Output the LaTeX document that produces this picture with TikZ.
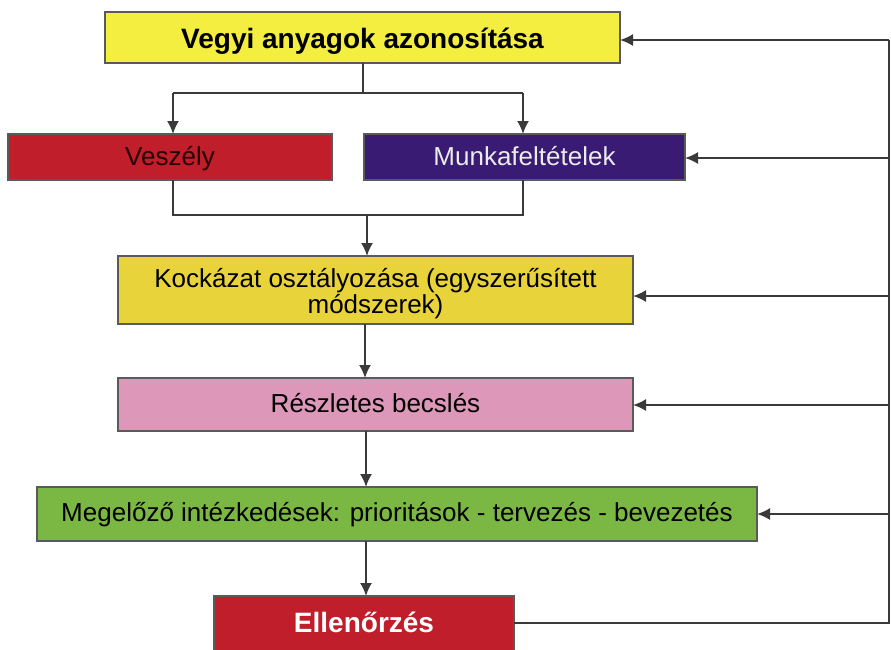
\documentclass[tikz,border=0pt]{standalone}
\usepackage{fontspec}
\setmainfont{Liberation Sans}
\usetikzlibrary{arrows.meta}
\definecolor{cyel}{HTML}{F4EE40}
\definecolor{cred}{HTML}{BF1E2A}
\definecolor{cpur}{HTML}{3A1B74}
\definecolor{cgold}{HTML}{E9D33B}
\definecolor{cpink}{HTML}{DD97B8}
\definecolor{cgreen}{HTML}{7BB843}
\definecolor{cline}{HTML}{3A3A3A}
\definecolor{cbord}{HTML}{5A5A5A}
\newcommand{\shiftdown}[2]{\raisebox{-#1}[0.72em][0.22em]{#2}}
\begin{document}
\begin{tikzpicture}[x=1pt,y=-1pt,
  box/.style={draw=cbord, line width=1.3pt, inner sep=0pt, outer sep=0pt, align=center, font=\fontsize{26}{26}\selectfont},
  ln/.style={draw=cline, line width=1.8pt},
  arr/.style={ln, -{Latex[length=13pt,width=12pt]}}]
\useasboundingbox (0,0) rectangle (891,649);
\begin{scope}
\clip (0,0) rectangle (891,649);
\node[box, fill=cyel, minimum width=515pt, minimum height=51pt, font=\fontsize{28}{30}\selectfont\bfseries] (top) at (362.5,37.5) {\shiftdown{4pt}{Vegyi anyagok azonosítása}};
\node[box, fill=cred, text=black!85!red, minimum width=324pt, minimum height=46pt] (vesz) at (170,157) {\shiftdown{2pt}{Veszély}};
\node[box, fill=cpur, text=white!92!black, minimum width=321pt, minimum height=46pt] (munk) at (524.5,157) {\shiftdown{2pt}{Munkafeltételek}};
\node[box, fill=cgold, minimum width=515pt, minimum height=68pt] (kock) at (375.5,290) {\raisebox{-5pt}[\height][\depth]{\begin{tabular}{@{}c@{}}Kockázat osztályozása (egyszerűsített\\[-1pt]módszerek)\end{tabular}}};
\node[box, fill=cpink, minimum width=515pt, minimum height=53pt] (resz) at (375.5,404.5) {\shiftdown{1pt}{Részletes becslés}};
\node[box, fill=cgreen, minimum width=720pt, minimum height=54pt] (meg) at (397,514) {\shiftdown{1pt}{Megelőző intézkedések: prioritások - tervezés - bevezetés}};
\node[box, fill=cred, text=white, minimum width=300pt, minimum height=68pt, font=\fontsize{28}{30}\selectfont\bfseries] (ell) at (364,630) {\shiftdown{-5pt}{Ellenőrzés}};
\end{scope}
% split from top
\coordinate (sa) at (363,93);
\draw[ln] (top.south -| sa) -- (sa);
\draw[arr] (sa -| 173,0) -- (173,134 |- vesz.north);
\draw[ln] (sa -| 173,0) -- (523,93);
\draw[arr] (523,93) -- (523,134 |- munk.north);
% merge
\coordinate (ma) at (173,215);
\coordinate (mb) at (523,215);
\draw[ln] (vesz.south -| ma) -- (ma) -- (mb) -- (munk.south -| mb);
\draw[arr] (367,215) -- (kock.north -| 367,0);
% vertical chain
\draw[arr] (kock.south -| 365,0) -- (resz.north -| 365,0);
\draw[arr] (resz.south -| 366,0) -- (meg.north -| 366,0);
\draw[arr] (meg.south -| 366,0) -- (ell.north -| 366,0);
% feedback loop
\coordinate (fb) at (889,623);
\coordinate (ft) at (889,40);
\draw[ln] (ell.east |- fb) -- (fb) -- (ft);
\draw[arr] (ft) -- (top.east |- ft);
\draw[arr] (889,158) -- (munk.east |- 0,158);
\draw[arr] (889,296) -- (kock.east |- 0,296);
\draw[arr] (889,405) -- (resz.east |- 0,405);
\draw[arr] (889,514) -- (meg.east |- 0,514);
\end{tikzpicture}
\end{document}
